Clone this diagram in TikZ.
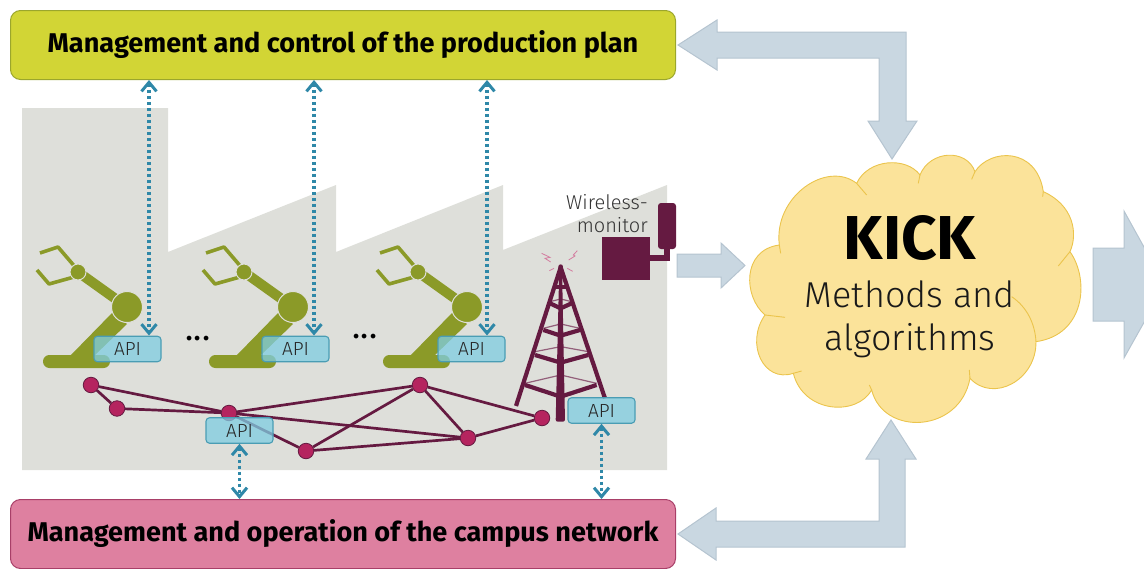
\documentclass[tikz,border=0pt]{standalone}
\usepackage{fontspec}
\setmainfont{Fira Sans}
\newfontfamily\lightfont{Fira Sans Light}
\usetikzlibrary{arrows.meta,calc}
\definecolor{factory}{HTML}{DEDFDA}
\definecolor{robot}{HTML}{8B9A28}
\definecolor{plum}{HTML}{651A41}
\definecolor{netdot}{HTML}{B5245F}
\definecolor{apifill}{HTML}{7FCDE2}
\definecolor{apiline}{HTML}{4A9DB4}
\definecolor{dotline}{HTML}{2F88A8}
\definecolor{bigfill}{HTML}{C9D7E1}
\definecolor{bigline}{HTML}{B5C4D0}
\definecolor{cloudfill}{HTML}{FBE39A}
\definecolor{cloudline}{HTML}{EBC44C}
\definecolor{topfill}{HTML}{D2D535}
\definecolor{topline}{HTML}{9BA62C}
\definecolor{botfill}{HTML}{DE80A0}
\definecolor{botline}{HTML}{A83F68}
\tikzset{
  x=1pt,y=-1pt,
  banner/.style={draw,line width=1pt,rounded corners=10pt,minimum width=665pt,minimum height=69pt,inner sep=0pt,anchor=north west,font=\fontsize{27.1}{30}\selectfont\bfseries},
  apibox/.style={draw=apiline,line width=1.1pt,fill=apifill,fill opacity=.75,text opacity=1,rounded corners=3.5pt,minimum width=67pt,minimum height=25.5pt,inner sep=0pt,font=\lightfont\fontsize{19}{20}\selectfont,text=black!85},
  netnode/.style={circle,draw=plum,line width=.8pt,fill=netdot,minimum size=15.5pt,inner sep=0pt},
  netlink/.style={draw=plum,line width=2.7pt},
  dotarrow/.style={draw=dotline,line width=3.6pt,dash pattern=on 3.4pt off 2.6pt,{Straight Barb[length=9pt,width=15pt,line width=3pt]}-{Straight Barb[length=9pt,width=15pt,line width=3pt]}},
  bigarrow/.style={draw=bigline,line width=1pt,fill=bigfill},
  cloudedge/.style={draw=cloudline,line width=.9pt},
  robotlimb/.style={draw=robot,line width=10pt},
  gripper/.style={draw=robot,line width=3.6pt,line join=round},
  tower/.style={draw=plum,line width=4.2pt},
  towerthin/.style={draw=plum!70,line width=1.2pt},
  hints/.style={draw=netdot!60,line width=.8pt},
}
\newcommand{\robotarm}[1]{%
  \begin{scope}[shift={(#1,0)}]
    \fill[robot,rounded corners=6.4pt] (43,355) rectangle (110,368);
    \fill[robot] (70,356) -- (113,312) -- (127,324) -- (94,356) -- cycle;
    \draw[robotlimb] (78,272) -- (127,307);
    \draw[gripper] (40,253) -- (58,247) -- (76,268);
    \draw[gripper] (37,270) -- (49,284) -- (74,277);
    \node[circle,fill=robot,draw=factory,line width=1pt,minimum size=16pt,inner sep=0pt] at (78,272) {};
    \node[circle,fill=robot,draw=factory,line width=1pt,minimum size=31pt,inner sep=0pt] at (127,307) {};
  \end{scope}}
\begin{document}
\begin{tikzpicture}
\useasboundingbox (0,0) rectangle (1144,568);
\clip (0,0) rectangle (1144,568);
% factory
\fill[factory] (22,108) -- (168,108) -- (168,252) -- (336,185) -- (336,252) -- (503,185) -- (503,250) -- (667,185) -- (667,470) -- (22,470) -- cycle;
% banners
\node[banner,draw=topline,fill=topfill] (top) at (10,10) {\raisebox{0pt}{Management and control of the production plan}};
\node[banner,draw=botline,fill=botfill] (bot) at (10,499) {\raisebox{-2pt}{Management and operation of the campus network}};
% robots
\robotarm{0}
\robotarm{166}
\robotarm{340}
\node[font=\fontsize{34}{34}\selectfont,text=black,anchor=base,inner sep=0pt] (dots1) at (198,340) {...};
\node[font=\fontsize{34}{34}\selectfont,text=black,anchor=base,inner sep=0pt] (dots2) at (365,338) {...};
% tower
\begin{scope}[shift={(490,180)},x=.3333pt,y=-.3333pt]
  \draw[towerthin] (105,610) -- (212,585) -- (320,610);
  \draw[towerthin] (135,515) -- (212,500) -- (295,515);
  \draw[towerthin] (160,445) -- (212,432) -- (270,445);
  \draw[towerthin] (180,365) -- (212,357) -- (245,365);
  \draw[tower] (212,262) -- (78,678);
  \draw[tower] (212,262) -- (345,655);
  \draw[tower] (105,615) -- (212,650) -- (320,615);
  \draw[tower] (135,525) -- (212,548) -- (295,525);
  \draw[tower] (160,450) -- (212,467) -- (270,450);
  \draw[tower] (180,370) -- (212,385) -- (245,370);
  \draw[tower] (195,320) -- (229,320);
  \fill[plum,rounded corners=2pt] (197,725) -- (225,725) -- (216,260) -- (208,260) -- cycle;
  \fill[plum] (212,260) circle (7);
  \draw[hints] (155,220) -- (180,232) -- (165,235) -- (182,246);
  \draw[hints] (262,212) -- (250,225) -- (255,228) -- (236,240);
  \draw[hints] (178,272) -- (192,265);
  \draw[hints] (232,265) -- (248,274);
\end{scope}
% network
\node[netnode] (n1) at (91,385) {};
\node[netnode] (n2) at (117,408.5) {};
\node[netnode] (n3) at (229,413) {};
\node[netnode] (n4) at (420,385) {};
\node[netnode] (n5) at (468,438) {};
\node[netnode] (n6) at (542,418) {};
\node[netnode] (n7) at (306,451) {};
\draw[netlink] (n1) -- (n2);
\draw[netlink] (n1) -- (n3);
\draw[netlink] (n2) -- (n3);
\draw[netlink] (n3) -- (n4);
\draw[netlink] (n3) -- (n5);
\draw[netlink] (n3) -- (n7);
\draw[netlink] (n7) -- (n4);
\draw[netlink] (n7) -- (n5);
\draw[netlink] (n4) -- (n5);
\draw[netlink] (n4) -- (n6);
\draw[netlink] (n5) -- (n6);
% API boxes
\node[apibox] (a1) at (127.5,349) {API};
\node[apibox] (a2) at (295.5,349) {API};
\node[apibox] (a3) at (471.5,349) {API};
\node[apibox] (a4) at (239.5,430.5) {API};
\node[apibox] (a5) at (601.5,410.5) {API};
% dotted connectors
\coordinate (c1) at (149,335.5);
\coordinate (c2) at (314,335.5);
\coordinate (c3) at (487,335.5);
\draw[dotarrow] (top.south -| c1) -- (c1);
\draw[dotarrow] (top.south -| c2) -- (c2);
\draw[dotarrow] (top.south -| c3) -- (c3);
\draw[dotarrow] (a4.south) -- (bot.north -| a4.south);
\draw[dotarrow] (a5.south) -- (bot.north -| a5.south);
% monitor
\node[fill=plum,minimum width=48pt,minimum height=43pt,inner sep=0pt] (mon) at (626,258.5) {};
\node[fill=plum,rounded corners=3pt,minimum width=18pt,minimum height=46pt,inner sep=0pt] (ant) at (667,226) {};
\draw[plum,line width=6pt] (mon.east |- 0,257.5) -| (ant.south);
\node[anchor=east,font=\lightfont\fontsize{20}{22}\selectfont,text=black!80,inner sep=0pt] (wl1) at (648,202) {Wireless-};
\node[anchor=east,font=\lightfont\fontsize{20}{22}\selectfont,text=black!80,inner sep=0pt] (wl2) at (648,225) {monitor};
% big arrows
\draw[bigarrow,line join=miter] (678,45) -- (717,20) -- (717,32) -- (906,32) -- (906,121) -- (917,121) -- (892,159) -- (868,121) -- (879,121) -- (879,58) -- (717,58) -- (717,70) -- cycle;
\draw[bigarrow] (678,534) -- (716,508) -- (716,521) -- (879,521) -- (879,459) -- (866,459) -- (891,420) -- (916,459) -- (905,459) -- (905,547) -- (716,547) -- (716,560) -- cycle;
\draw[bigarrow] (677,254) -- (721,254) -- (721,243) -- (745,265.5) -- (721,288) -- (721,277) -- (677,277) -- cycle;
\draw[bigarrow] (1093,248) -- (1124,248) -- (1124,211) -- (1165,285) -- (1124,358) -- (1124,321) -- (1093,321) -- cycle;
% cloud
\begin{scope}[shift={(740,140)},x=.3333pt,y=-.3333pt]
  \path[cloudedge,fill=cloudfill]
    (118,315) .. controls (100,170) and (260,60) .. (350,130)
    .. controls (385,55) and (500,50) .. (540,105)
    .. controls (570,30) and (680,25) .. (705,95)
    .. controls (750,25) and (890,20) .. (910,155)
    .. controls (1000,195) and (1015,280) .. (990,335)
    .. controls (1050,420) and (1035,585) .. (888,605)
    .. controls (890,720) and (760,790) .. (690,715)
    .. controls (660,880) and (430,890) .. (395,750)
    .. controls (350,830) and (190,820) .. (160,700)
    .. controls (70,730) and (15,610) .. (75,525)
    .. controls (10,470) and (5,330) .. (118,315) -- cycle;
  \draw[cloudedge] (350,130) -- (380,165);
  \draw[cloudedge] (540,105) -- (535,130);
  \draw[cloudedge] (705,95) -- (695,118);
  \draw[cloudedge] (910,155) -- (908,170);
  \draw[cloudedge] (990,335) -- (955,378);
  \draw[cloudedge] (815,470) .. controls (860,500) and (885,550) .. (888,605);
  \draw[cloudedge] (690,715) -- (688,690);
  \draw[cloudedge] (395,750) -- (388,735);
  \draw[cloudedge] (160,700) -- (185,693);
  \draw[cloudedge] (75,525) -- (135,532);
  \draw[cloudedge] (118,315) -- (122,340);
\end{scope}
\node[font=\fontsize{62}{62}\selectfont\bfseries,inner sep=0pt] (kick) at (910,238) {KICK};
\node[font=\lightfont\fontsize{36}{43}\selectfont,align=center,inner sep=0pt,text=black!90] (meth) at (910,319) {Methods and\\algorithms};
\end{tikzpicture}
\end{document}
